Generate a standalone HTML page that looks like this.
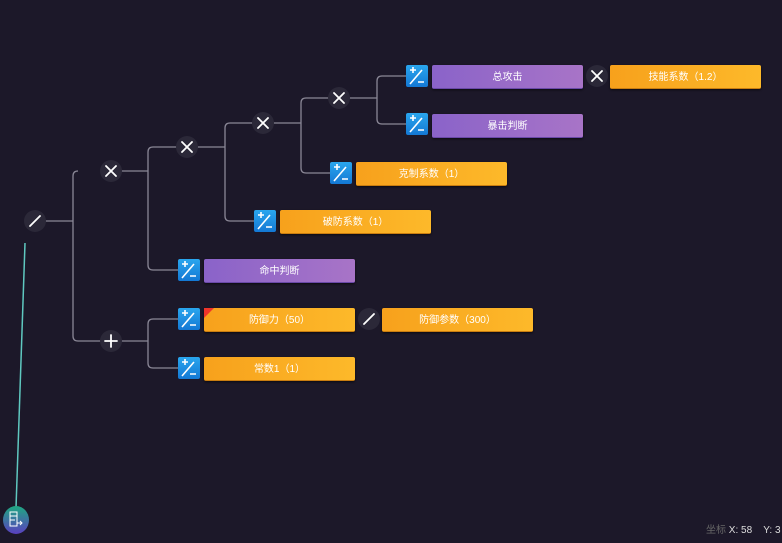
<!DOCTYPE html>
<html><head><meta charset="utf-8"><style>
body{margin:0;width:782px;height:543px;background:#1c1829;overflow:hidden;position:relative;font-family:"Liberation Sans","Noto Sans CJK SC",sans-serif}
.bar{position:absolute;height:23px;width:151px;color:#fff;font-size:10px;line-height:25px;text-align:center;border-radius:2px;box-shadow:0 1px 2px rgba(0,0,0,.6)}
.p{background:linear-gradient(90deg,#8a63c9,#a874c7);border-bottom:1px solid #6a49a8}
.o{background:linear-gradient(90deg,#f7a11c,#fdb92a);border-bottom:1px solid #c97d10}
.ic{position:absolute;width:22px;height:22px;background:linear-gradient(#2aa6ee,#1478d4);border-radius:2px}
.c{position:absolute;width:22px;height:22px;border-radius:50%;background:#2b2838}
</style></head><body>
<svg width="782" height="543" style="position:absolute;left:0;top:0" fill="none" stroke="#8a8796" stroke-width="1.3">
<path d="M45 221H73M73 176V336Q73 341 78 341H101M78 171Q73 171 73 176M121 171H148M148 152V265Q148 270 153 270H178M153 147Q148 147 148 152M148 152V152M153 147H177M197 147H225M230 123Q225 123 225 128V216Q225 221 230 221H254M230 123H253M273 123H301M306 98Q301 98 301 103V168Q301 173 306 173H330M306 98H329M349 98H377M382 76Q377 76 377 81V119Q377 124 382 124H406M382 76H406M121 341H148M153 319Q148 319 148 324V363Q148 368 153 368H178M153 319H178"/>
<line x1="25" y1="243" x2="16" y2="508" stroke="#5fc8c0" stroke-width="1.5"/>
</svg>
<div class="c" style="left:24px;top:210px"></div>
<div class="c" style="left:100px;top:160px"></div>
<div class="c" style="left:100px;top:330px"></div>
<div class="c" style="left:176px;top:136px"></div>
<div class="c" style="left:252px;top:112px"></div>
<div class="c" style="left:328px;top:87px"></div>
<div class="c" style="left:586px;top:65px"></div>
<div class="c" style="left:358px;top:308px"></div>
<svg width="782" height="543" style="position:absolute;left:0;top:0" stroke="#fff" stroke-width="1.8" stroke-linecap="round">
<path d="M30 226L40 216M374 314L364 324"/>
<path d="M106 166l10 10M116 166l-10 10M182 142l10 10M192 142l-10 10M258 118l10 10M268 118l-10 10M334 93l10 10M344 93l-10 10M592 71l10 10M602 71l-10 10"/>
<path d="M111 335v12M105 341h12"/>
</svg>
<div class="ic" style="left:406px;top:65px"></div>
<div class="ic" style="left:406px;top:113px"></div>
<div class="ic" style="left:330px;top:162px"></div>
<div class="ic" style="left:254px;top:210px"></div>
<div class="ic" style="left:178px;top:259px"></div>
<div class="ic" style="left:178px;top:308px"></div>
<div class="ic" style="left:178px;top:357px"></div>
<svg width="782" height="543" style="position:absolute;left:0;top:0" stroke="#fff" stroke-width="1.6">
<g id="g"><path d="M410 70h6M413 67v6M410 84l12-14M418 82h6"/></g>
<use href="#g" y="48"/><use href="#g" x="-76" y="97"/><use href="#g" x="-152" y="145"/><use href="#g" x="-228" y="194"/><use href="#g" x="-228" y="243"/><use href="#g" x="-228" y="292"/>
</svg>
<div class="bar p" style="left:432px;top:65px">总攻击</div>
<div class="bar o" style="left:610px;top:65px">技能系数（1.2）</div>
<div class="bar p" style="left:432px;top:114px">暴击判断</div>
<div class="bar o" style="left:356px;top:162px">克制系数（1）</div>
<div class="bar o" style="left:280px;top:210px">破防系数（1）</div>
<div class="bar p" style="left:204px;top:259px">命中判断</div>
<div class="bar o" style="left:204px;top:308px">防御力（50）<div style="position:absolute;left:0;top:0;width:0;height:0;border-top:10px solid #f0352a;border-right:10px solid transparent"></div></div>
<div class="bar o" style="left:382px;top:308px">防御参数（300）</div>
<div class="bar o" style="left:204px;top:357px">常数1（1）</div>
<div style="position:absolute;left:3px;top:506px;width:26px;height:28px;border-radius:50%;background:linear-gradient(#1fa882,#5a3fc0)"></div>
<svg width="782" height="543" style="position:absolute;left:0;top:0" stroke="#fff" stroke-width="1" fill="none">
<path d="M10 512h7v14h-7zM10 516h7M10 520h5M17 523h5M20 521l2 2-2 2"/>
</svg>
<div style="position:absolute;left:706px;top:521px;font-size:10px;color:#666"><span>坐标</span> <span style="color:#ddd">X: 58</span>&nbsp;&nbsp;&nbsp;&nbsp;<span style="color:#ddd">Y: 3</span></div>
</body></html>
